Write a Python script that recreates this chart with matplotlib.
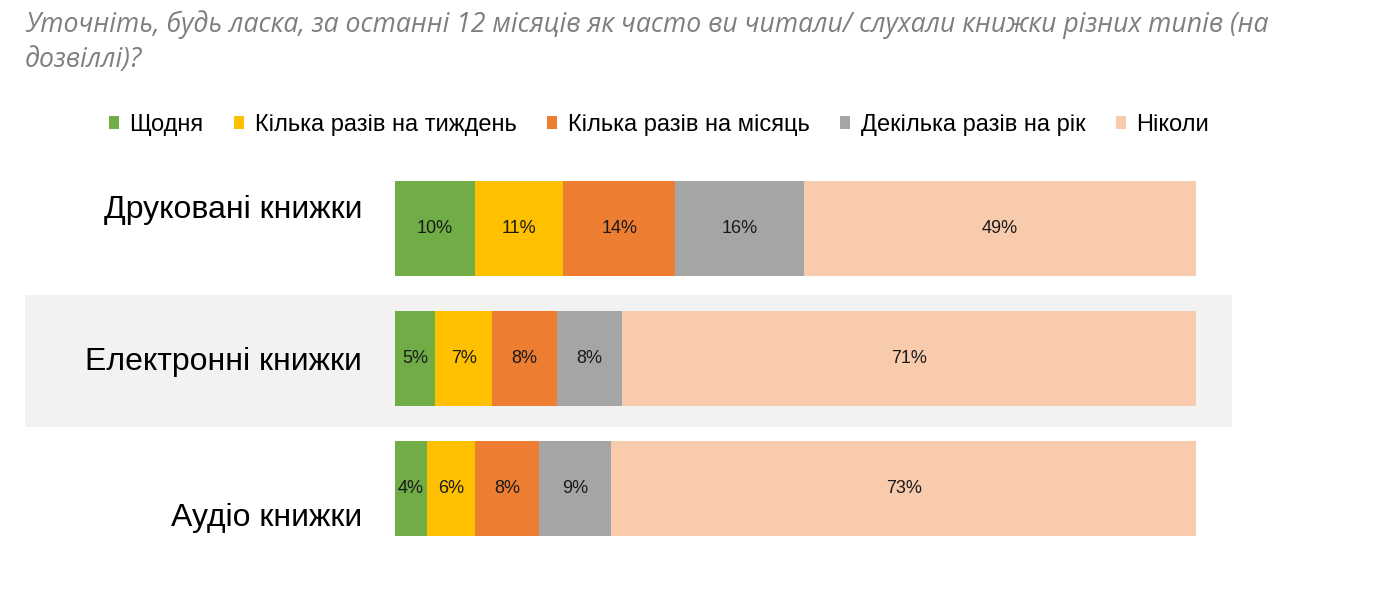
import numpy as np
import matplotlib.pyplot as plt
from matplotlib.patches import Rectangle

categories = ["Друковані книжки", "Електронні книжки", "Аудіо книжки"]
series = ["Щодня", "Кілька разів на тиждень", "Кілька разів на місяць",
          "Декілька разів на рік", "Ніколи"]
daily = [10, 5, 4]
weekly = [11, 7, 6]
monthly = [14, 8, 8]
yearly = [16, 8, 9]
never = [49, 71, 73]

colors = ["#70ad47", "#ffc000", "#ed7d31", "#a5a5a5", "#f8cbad"]
title_lines = ["Уточніть, будь ласка, за останні 12 місяців як часто ви читали/ слухали книжки різних типів (на",
               "дозвіллі)?"]

W, H = 1396, 590
fig = plt.figure(figsize=(W / 100, H / 100), dpi=100)
fig.patch.set_facecolor("white")

# grey band behind the middle row
fig.patches.append(Rectangle((25 / W, (H - 427) / H), (1232 - 25) / W, (427 - 295) / H,
                             transform=fig.transFigure, facecolor="#f2f2f2",
                             edgecolor="none", zorder=-1))

ax = fig.add_axes([395 / W, (H - 554) / H, 801 / W, (554 - 163) / H])
ax.patch.set_alpha(0)

data = np.array([daily, weekly, monthly, yearly, never], dtype=float)
shares = data / data.sum(axis=0) * 100
y = np.arange(len(categories))
left = np.zeros(len(categories))
for i, name in enumerate(series):
    bars = ax.barh(y, shares[i], left=left, height=0.73, color=colors[i], label=name)
    for j, b in enumerate(bars):
        ax.text(left[j] + shares[i][j] / 2, y[j], f"{int(data[i][j])}%",
                ha="center", va="center", fontsize=13, color="#1a1a1a",
                family="Liberation Sans")
    left += shares[i]

ax.set_xlim(0, 100)
ax.set_ylim(2.5, -0.5)
ax.axis("off")

label_offsets = [-0.14, 0.03, 0.22]
for j, cat in enumerate(categories):
    ax.text(-4.1, y[j] + label_offsets[j], cat, ha="right", va="center",
            fontsize=23, family="Liberation Sans", color="black")

for k, line in enumerate(title_lines):
    fig.text(25 / W, 1 - (32 + 35 * k) / H, line, ha="left", va="baseline",
             fontsize=19.2, family="Open Sans", style="italic", color="#7f7f7f")

leg = fig.legend(loc="center", bbox_to_anchor=(659 / W, 1 - 125 / H), ncol=5,
                 frameon=False, handlelength=0.42, handleheight=0.42,
                 handletextpad=0.45, columnspacing=1.3,
                 prop={"family": "Liberation Sans", "size": 17})

fig.savefig("out.png", dpi=100)
